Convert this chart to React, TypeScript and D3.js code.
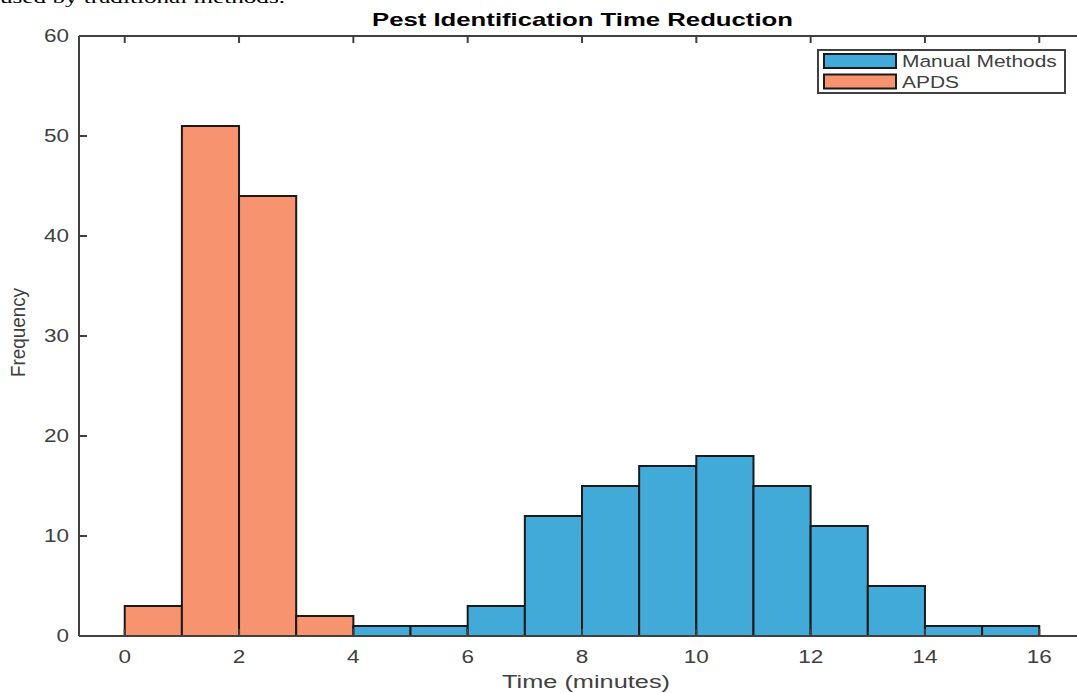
import React from "react";
import * as d3 from "d3";

const binEdgesApds = [0, 1, 2, 3, 4];
const apdsCounts = [3, 51, 44, 2];
const binEdgesManual = [4, 5, 6, 7, 8, 9, 10, 11, 12, 13, 14, 15, 16];
const manualCounts = [1, 1, 3, 12, 15, 17, 18, 15, 11, 5, 1, 1];
const xTicks = [0, 2, 4, 6, 8, 10, 12, 14, 16];
const yTicks = [0, 10, 20, 30, 40, 50, 60];
const legendItems = ["Manual Methods", "APDS"];

const W = 1077, H = 693;
const left = 79, top = 36, bottom = 636, right = 1085;
const BLUE = "#41AAD9";
const ORANGE = "#F7936F";
const AX = "#404040";
const FONT = "'Liberation Sans', Arial, Helvetica, sans-serif";
const SX = 1.25;

function SText(props: {
  x: number; y: number; anchor?: string; size: number; sx?: number;
  weight?: string; fill?: string; children: React.ReactNode;
}) {
  const { x, y, anchor = "start", size, sx = SX, weight = "normal", fill = AX, children } = props;
  return (
    <g transform={`translate(${x},${y}) scale(${sx},1)`}>
      <text x={0} y={0} textAnchor={anchor} fontFamily={FONT} fontSize={size} fontWeight={weight} fill={fill}>
        {children}
      </text>
    </g>
  );
}

export default function App() {
  const x = d3.scaleLinear().domain([-0.8, 16.8]).range([left, right]);
  const y = d3.scaleLinear().domain([0, 60]).range([bottom, top]);

  const bars = (edges: number[], counts: number[], color: string, key: string) =>
    counts.map((c, i) => (
      <rect
        key={key + i}
        x={x(edges[i])}
        y={y(c)}
        width={x(edges[i + 1]) - x(edges[i])}
        height={y(0) - y(c)}
        fill={color}
        stroke="#1a1a1a"
        strokeWidth={2}
      />
    ));

  return (
    <svg width={W} height={H} style={{ position: "absolute", left: 0, top: 0, background: "#fff" }}>
      <text
        x={0}
        y={3}
        textLength={285}
        lengthAdjust="spacingAndGlyphs"
        fontFamily="'Liberation Serif', 'Times New Roman', serif"
        fontSize={17}
        fill="#000"
      >
        used by traditional methods.
      </text>
      <text
        x={582.5}
        y={26}
        textAnchor="middle"
        textLength={421}
        lengthAdjust="spacingAndGlyphs"
        fontFamily={FONT}
        fontWeight="bold"
        fontSize={18.5}
        fill="#000"
      >
        Pest Identification Time Reduction
      </text>
      {bars(binEdgesApds, apdsCounts, ORANGE, "a")}
      {bars(binEdgesManual, manualCounts, BLUE, "m")}
      {/* axes box */}
      <line x1={left} x2={left} y1={top} y2={bottom} stroke={AX} strokeWidth={2} />
      <line x1={left} x2={right} y1={bottom} y2={bottom} stroke={AX} strokeWidth={2} />
      <line x1={left} x2={right} y1={top} y2={top} stroke={AX} strokeWidth={2} />
      <line x1={right} x2={right} y1={top} y2={bottom} stroke={AX} strokeWidth={2} />
      {xTicks.map((t) => (
        <g key={"xt" + t}>
          <line x1={x(t)} x2={x(t)} y1={bottom} y2={bottom - 7} stroke={AX} strokeWidth={2} />
          <line x1={x(t)} x2={x(t)} y1={top} y2={top + 7} stroke={AX} strokeWidth={2} />
          <SText x={x(t)} y={663} anchor="middle" size={18}>
            {t}
          </SText>
        </g>
      ))}
      {yTicks.map((t) => (
        <g key={"yt" + t}>
          <line x1={left} x2={left + 8} y1={y(t)} y2={y(t)} stroke={AX} strokeWidth={2} />
          <line x1={right} x2={right - 8} y1={y(t)} y2={y(t)} stroke={AX} strokeWidth={2} />
          <SText x={69} y={y(t) + 5.5} anchor="end" size={18}>
            {t}
          </SText>
        </g>
      ))}
      <text
        x={586}
        y={688}
        textAnchor="middle"
        textLength={168}
        lengthAdjust="spacingAndGlyphs"
        fontFamily={FONT}
        fontSize={18}
        fill={AX}
      >
        Time (minutes)
      </text>
      <g transform="translate(25,332.5) scale(1.25,1) rotate(-90)">
        <text
          x={0}
          y={0}
          textAnchor="middle"
          textLength={89}
          lengthAdjust="spacingAndGlyphs"
          fontFamily={FONT}
          fontSize={16}
          fill={AX}
        >
          Frequency
        </text>
      </g>
      {/* legend */}
      <rect x={818} y={50} width={247} height={43} fill="#fff" stroke={AX} strokeWidth={2} />
      {legendItems.map((name, i) => (
        <g key={name}>
          <rect
            x={824}
            y={54 + i * 20.5}
            width={72}
            height={14}
            fill={i === 0 ? BLUE : ORANGE}
            stroke="#1a1a1a"
            strokeWidth={2}
          />
          <SText x={902} y={67 + i * 20.5} size={16.5} sx={1.27}>
            {name}
          </SText>
        </g>
      ))}
    </svg>
  );
}
